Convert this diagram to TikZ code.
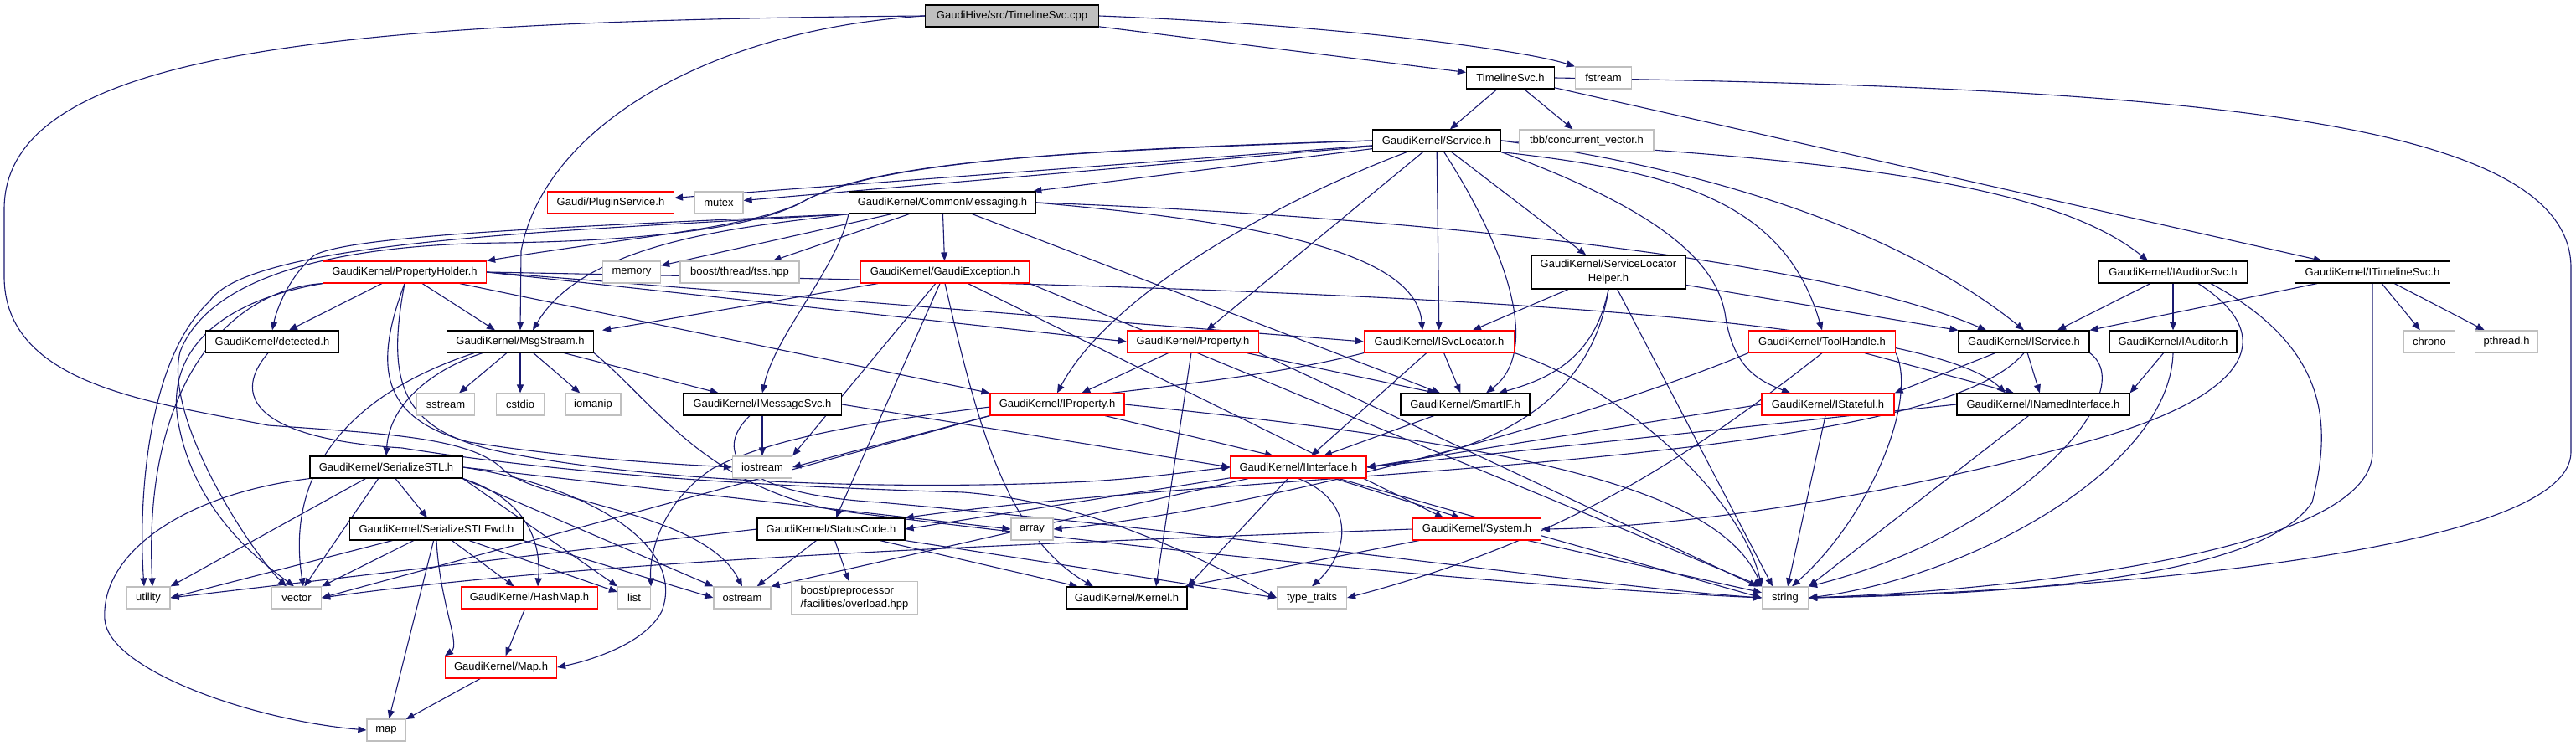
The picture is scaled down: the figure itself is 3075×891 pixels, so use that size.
\documentclass[tikz,border=0pt]{standalone}
\usepackage{fontspec}
\setmainfont{Liberation Sans}
\usetikzlibrary{arrows.meta}
\definecolor{edgec}{HTML}{191970}
\definecolor{greyb}{HTML}{BFBFBF}
\definecolor{redb}{HTML}{FF0000}
\pgfdeclarelayer{background}
\pgfsetlayers{background,main}
\begin{document}
\begin{tikzpicture}[x=1pt,y=-1pt,
  nb/.style={draw=black, line width=1.2pt, fill=white, minimum height=26pt, inner sep=0pt, font=\fontsize{13}{15}\selectfont},
  nr/.style={nb, draw=redb},
  ng/.style={nb, draw=greyb},
  dep/.style={draw=edgec, line width=1.1pt, -{Triangle[length=10pt,width=8pt]}},
]
\useasboundingbox (0,0) rectangle (3075,891);
% row 0
\node[nb, fill=greyb, minimum width=207] (cpp) at (1208,19) {GaudiHive/src/TimelineSvc.cpp};
% row 1
\node[nb, minimum width=105] (tlh) at (1803,93) {TimelineSvc.h};
\node[ng, minimum width=67] (fstream) at (1914,93) {fstream};
% row 2
\node[nb, minimum width=153] (service) at (1715,168) {GaudiKernel/Service.h};
\node[ng, minimum width=160] (tbb) at (1894,168) {tbb/concurrent\_vector.h};
% row 3
\node[nr, minimum width=151] (plugin) at (729,242) {Gaudi/PluginService.h};
\node[ng, minimum width=58] (mutex) at (858,242) {mutex};
\node[nb, minimum width=223] (commsg) at (1125,242) {GaudiKernel/CommonMessaging.h};
% row 4
\node[nr, minimum width=195] (propholder) at (483,325) {GaudiKernel/PropertyHolder.h};
\node[ng, minimum width=69] (memory) at (754,325) {memory};
\node[ng, minimum width=142] (tss) at (883,325) {boost/thread/tss.hpp};
\node[nr, minimum width=201] (gexc) at (1128,325) {GaudiKernel/GaudiException.h};
\node[nb, minimum width=184, minimum height=40, align=center, font=\fontsize{13}{17}\selectfont] (slh) at (1920,325) {GaudiKernel/ServiceLocator\\Helper.h};
\node[nb, minimum width=177] (iauditsvc) at (2594,325) {GaudiKernel/IAuditorSvc.h};
\node[nb, minimum width=185] (itimeline) at (2832,325) {GaudiKernel/ITimelineSvc.h};
% row 5
\node[nb, minimum width=159] (detected) at (325,408) {GaudiKernel/detected.h};
\node[nb, minimum width=175] (msgstream) at (621,408) {GaudiKernel/MsgStream.h};
\node[nr, minimum width=157] (property) at (1424,408) {GaudiKernel/Property.h};
\node[nr, minimum width=179] (isvcloc) at (1718,408) {GaudiKernel/ISvcLocator.h};
\node[nr, minimum width=175] (toolhandle) at (2175,408) {GaudiKernel/ToolHandle.h};
\node[nb, minimum width=156] (iservice) at (2416,408) {GaudiKernel/IService.h};
\node[nb, minimum width=152] (iauditor) at (2594,408) {GaudiKernel/IAuditor.h};
\node[ng, minimum width=61] (chrono) at (2900,408) {chrono};
\node[ng, minimum width=75] (pthread) at (2992,408) {pthread.h};
% row 6
\node[ng, minimum width=69] (sstream) at (532,483) {sstream};
\node[ng, minimum width=57] (cstdio) at (621,483) {cstdio};
\node[ng, minimum width=66] (iomanip) at (708,483) {iomanip};
\node[nb, minimum width=189] (imsgsvc) at (910,483) {GaudiKernel/IMessageSvc.h};
\node[nr, minimum width=160] (iproperty) at (1262,483) {GaudiKernel/IProperty.h};
\node[nb, minimum width=154] (smartif) at (1749,483) {GaudiKernel/SmartIF.h};
\node[nr, minimum width=158] (istateful) at (2182,483) {GaudiKernel/IStateful.h};
\node[nb, minimum width=206] (inamed) at (2439,483) {GaudiKernel/INamedInterface.h};
% row 7
\node[nb, minimum width=182] (serstl) at (461,558) {GaudiKernel/SerializeSTL.h};
\node[ng, minimum width=71] (iostream) at (910,558) {iostream};
\node[nr, minimum width=162] (iinterface) at (1550,558) {GaudiKernel/IInterface.h};
% row 8
\node[nb, minimum width=207] (serfwd) at (521,632) {GaudiKernel/SerializeSTLFwd.h};
\node[nb, minimum width=176] (statuscode) at (992,632) {GaudiKernel/StatusCode.h};
\node[ng, minimum width=50] (array) at (1232,632) {array};
\node[nr, minimum width=153] (system) at (1763,632) {GaudiKernel/System.h};
% row 9
\node[ng, minimum width=52] (utility) at (177,714) {utility};
\node[ng, minimum width=59] (vector) at (354,714) {vector};
\node[nr, minimum width=163] (hashmap) at (632,714) {GaudiKernel/HashMap.h};
\node[ng, minimum width=39] (list) at (757,714) {list};
\node[ng, minimum width=68] (ostream) at (886,714) {ostream};
\node[ng, minimum width=151, minimum height=39, align=left, font=\fontsize{13}{16}\selectfont] (boostpp) at (1020,714) {boost/preprocessor\\/facilities/overload.hpp};
\node[nb, minimum width=144] (kernel) at (1345,714) {GaudiKernel/Kernel.h};
\node[ng, minimum width=83] (typetraits) at (1566,714) {type\_traits};
\node[ng, minimum width=55] (string) at (2131,714) {string};
% row 10, 11
\node[nr, minimum width=133] (maph) at (598,797) {GaudiKernel/Map.h};
\node[ng, minimum width=46] (map) at (461,872) {map};

\begin{pgfonlayer}{background}
% cpp
\draw[dep] (cpp) -- (tlh);
\draw[dep] (cpp.east) .. controls (1600,30) and (1820,60) .. (fstream.north west);
\draw[dep] (cpp.west) .. controls (850,35) and (650,150) .. (622,300) -- (msgstream.north);
\draw[dep] (cpp.west) .. controls (400,25) and (5,60) .. (5,250) -- (5,330) .. controls (5,460) and (180,480) .. (320,508) .. controls (460,518) and (560,522) .. (600,560) .. controls (640,600) and (840,610) .. (ostream.north);
% TimelineSvc.h
\draw[dep] (tlh) -- (service);
\draw[dep] (tlh) -- (tbb);
\draw[dep] (tlh) -- (itimeline);
\draw[dep] (tlh.east) .. controls (2600,105) and (3069,140) .. (3069,320) -- (3069,540) .. controls (3069,660) and (2500,705) .. (string.east);
% Service.h
\draw[dep] (service) -- (plugin);
\draw[dep] (service) -- (mutex);
\draw[dep] (service) -- (commsg);
\draw[dep] (service.west) .. controls (1300,178) and (1050,192) .. (960,240) .. controls (900,272) and (760,282) .. (propholder.north east);
\draw[dep] (service.west) .. controls (1300,180) and (1050,190) .. (960,240) .. controls (900,275) and (750,288) .. (600,290) .. controls (400,292) and (250,330) .. (215,420) .. controls (195,500) and (300,660) .. ([xshift=-12]vector.north);
\draw[dep] (service) -- (property);
\draw[dep] (service) .. controls (1500,250) and (1320,360) .. (iproperty.north);
\draw[dep] (service) -- (isvcloc);
\draw[dep] (service) .. controls (1800,300) and (1840,420) .. ([xshift=25]smartif.north);
\draw[dep] (service) -- (slh);
\draw[dep] (service.south east) .. controls (2000,205) and (2130,240) .. (toolhandle.north);
\draw[dep] (service.south east) .. controls (1950,240) and (2050,300) .. (2060,380) .. controls (2070,440) and (2100,455) .. ([xshift=-45]istateful.north);
\draw[dep] (service.east) .. controls (2100,210) and (2300,300) .. (iservice.north);
\draw[dep] (service.east) .. controls (2200,190) and (2450,220) .. ([xshift=-30]iauditsvc.north);
% CommonMessaging.h
\draw[dep] (commsg) -- (memory);
\draw[dep] (commsg) -- (tss);
\draw[dep] (commsg) -- (gexc);
\draw[dep] (commsg.south west) .. controls (1000,320) and (925,400) .. (imsgsvc.north);
\draw[dep] (commsg.east) .. controls (1500,265) and (1690,300) .. ([xshift=-20]isvcloc.north);
\draw[dep] (commsg.south west) .. controls (900,270) and (700,285) .. ([xshift=15]msgstream.north);
\draw[dep] (commsg) -- ([xshift=-30]smartif.north);
\draw[dep] (commsg.south west) .. controls (700,270) and (420,280) .. (375,305) .. controls (345,330) and (330,370) .. (detected.north);
\draw[dep] (commsg.east) .. controls (1600,255) and (2150,300) .. ([xshift=-45]iservice.north);
\draw[dep] (commsg.south west) .. controls (700,275) and (300,285) .. (250,360) .. controls (175,430) and (165,600) .. ([xshift=-5]utility.north);
% PropertyHolder.h
\draw[dep] (propholder) -- ([xshift=20]detected.north);
\draw[dep] (propholder) -- ([xshift=-30]msgstream.north);
\draw[dep] (propholder.east) -- (property.west);
\draw[dep] (propholder.east) -- (isvcloc.west);
\draw[dep] (propholder.east) .. controls (1400,340) and (2280,360) .. ([xshift=-45]inamed.north);
\draw[dep] (propholder) -- (iproperty.north west);
\draw[dep] (propholder.south) .. controls (460,460) and (480,515) .. (600,540) .. controls (800,580) and (1100,585) .. (1300,575) .. controls (1380,570) and (1430,562) .. (iinterface.west);
\draw[dep] (propholder.south) .. controls (445,440) and (455,500) .. (560,528) .. controls (700,550) and (820,555) .. (iostream.west);
\draw[dep] (propholder.south west) .. controls (280,345) and (170,450) .. ([xshift=5]utility.north);
\draw[dep] (propholder.south west) .. controls (260,360) and (200,420) .. (212,500) .. controls (230,610) and (310,670) .. ([xshift=-3]vector.north);
% GaudiException.h
\draw[dep] (gexc) -- ([xshift=10]msgstream.north east);
\draw[dep] (gexc) -- (iostream.north east);
\draw[dep] (gexc) -- (statuscode);
\draw[dep] (gexc.south) .. controls (1165,500) and (1200,640) .. ([xshift=-40]kernel.north);
\draw[dep] (gexc) -- ([xshift=-40]system.north);
\draw[dep] (gexc.south east) -- (string.north west);
% ServiceLocatorHelper.h
\draw[dep] (slh) -- ([xshift=40]isvcloc.north);
\draw[dep] (slh.south) .. controls (1905,420) and (1860,450) .. ([xshift=40]smartif.north);
\draw[dep] (slh) -- (iservice.north west);
\draw[dep] (slh) -- ([xshift=-15]string.north);
\draw[dep] (slh.south) .. controls (1900,480) and (1780,540) .. (iinterface.east);
% IAuditorSvc.h
\draw[dep] (iauditsvc) -- ([xshift=40]iservice.north);
\draw[dep] (iauditsvc) -- (iauditor);
\draw[dep] ([xshift=30]iauditsvc.south) .. controls (2720,400) and (2690,470) .. (2500,525) .. controls (2250,595) and (2000,630) .. (system.east);
\draw[dep] ([xshift=45]iauditsvc.south) .. controls (2790,420) and (2780,520) .. (2760,600) .. controls (2700,690) and (2400,710) .. (string.east);
% ITimelineSvc.h
\draw[dep] (itimeline) -- (iservice.north east);
\draw[dep] (itimeline) -- (chrono);
\draw[dep] (itimeline) -- (pthread);
\draw[dep] (itimeline.south) -- (2832,540) .. controls (2832,660) and (2400,705) .. (string.east);
% detected.h
\draw[dep] ([xshift=-5]detected.south) .. controls (270,480) and (320,525) .. (480,535) .. controls (700,570) and (950,582) .. (1150,588) .. controls (1300,600) and (1420,660) .. (typetraits.west);
% MsgStream.h
\draw[dep] (msgstream) -- (sstream);
\draw[dep] (msgstream) -- (cstdio);
\draw[dep] (msgstream) -- (iomanip);
\draw[dep] (msgstream) -- (imsgsvc);
\draw[dep] ([xshift=-45]msgstream.south) .. controls (520,440) and (465,480) .. (serstl.north);
\draw[dep] ([xshift=-55]msgstream.south) .. controls (420,470) and (340,560) .. ([xshift=8]vector.north);
\draw[dep] (msgstream.south east) .. controls (780,480) and (840,580) .. (1000,610) .. controls (1400,660) and (1800,700) .. (string.west);
% Property.h
\draw[dep] (property) -- (iproperty);
\draw[dep] (property) -- ([xshift=-35]smartif.north);
\draw[dep] (property) -- ([xshift=35]kernel.north);
\draw[dep] (property.south east) -- ([xshift=-5]string.north west);
% ISvcLocator.h
\draw[dep] (isvcloc) -- (smartif);
\draw[dep] (isvcloc) -- (iinterface);
\draw[dep] (isvcloc.south east) .. controls (1950,470) and (2080,600) .. (string.north west);
\draw[dep] (isvcloc.south west) .. controls (1400,480) and (1000,480) .. (850,560) .. controls (790,600) and (775,660) .. (list.north east);
% ToolHandle.h
\draw[dep] (toolhandle) -- ([xshift=-35]inamed.north);
\draw[dep] (toolhandle.south east) .. controls (2290,480) and (2230,620) .. ([xshift=8]string.north);
\draw[dep] (toolhandle.south) .. controls (2000,560) and (1850,650) .. (typetraits.east);
\draw[dep] (toolhandle.south west) .. controls (1900,500) and (1500,610) .. (array.east);
% IService.h
\draw[dep] (iservice) -- (istateful.north east);
\draw[dep] (iservice) -- (inamed);
\draw[dep] (iservice.south east) .. controls (2560,470) and (2400,640) .. (string.north east);
\draw[dep] (iservice.south) .. controls (2300,560) and (1500,560) .. (statuscode.north east);
% IAuditor.h
\draw[dep] (iauditor) -- (inamed.north east);
\draw[dep] (iauditor.south) .. controls (2590,560) and (2350,690) .. (string.east);
% IMessageSvc.h
\draw[dep] (imsgsvc) -- (iostream);
\draw[dep] (imsgsvc.east) -- (iinterface.west);
\draw[dep] ([xshift=-15]imsgsvc.south) .. controls (850,540) and (880,590) .. (1050,600) .. controls (1500,640) and (1900,700) .. (string.west);
% IProperty.h
\draw[dep] (iproperty) -- ([xshift=-30]iinterface.north);
\draw[dep] (iproperty.south west) -- (iostream.east);
\draw[dep] (iproperty.south west) -- (vector.east);
\draw[dep] (iproperty.east) .. controls (1800,530) and (2050,580) .. (string.north west);
% SmartIF.h, IStateful.h, INamedInterface.h
\draw[dep] (smartif) -- ([xshift=30]iinterface.north);
\draw[dep] (istateful.west) -- (iinterface.east);
\draw[dep] (istateful) -- (string);
\draw[dep] (inamed.west) -- (iinterface.east);
\draw[dep] (inamed) -- (string.north east);
% SerializeSTL.h
\draw[dep] (serstl) -- (serfwd);
\draw[dep] (serstl.south east) .. controls (640,600) and (645,660) .. ([xshift=10]hashmap.north);
\draw[dep] (serstl.east) .. controls (700,580) and (820,650) .. (790,730) .. controls (770,770) and (700,790) .. (maph.east);
\draw[dep] (serstl.east) -- (array.west);
\draw[dep] (serstl.south east) -- (list.north west);
\draw[dep] (serstl.south west) .. controls (220,590) and (120,660) .. (125,740) .. controls (130,800) and (300,860) .. (map.west);
\draw[dep] (serstl.south east) -- (ostream.north west);
\draw[dep] (serstl) -- (utility.north east);
\draw[dep] (serstl) -- (vector);
% IInterface.h
\draw[dep] (iinterface) -- (statuscode.east);
\draw[dep] (iinterface) -- (kernel.north east);
\draw[dep] (iinterface) -- ([xshift=-20]system.north);
\draw[dep] (iinterface) -- (ostream.north east);
\draw[dep] (iinterface.south) .. controls (1620,600) and (1610,660) .. (typetraits.north);
\draw[dep] (iinterface) -- (string.west);
% SerializeSTLFwd.h
\draw[dep] (serfwd) -- (utility.east);
\draw[dep] (serfwd) -- (vector.north east);
\draw[dep] (serfwd) -- (hashmap);
\draw[dep] (serfwd.south) .. controls (525,720) and (550,770) .. (maph.north west);
\draw[dep] (serfwd) -- (list);
\draw[dep] (serfwd) -- (map);
\draw[dep] (serfwd.south east) -- (ostream.west);
% StatusCode.h
\draw[dep] (statuscode) -- (ostream);
\draw[dep] (statuscode) -- (boostpp);
\draw[dep] (statuscode) -- (kernel);
\draw[dep] (statuscode.south east) -- (typetraits.west);
\draw[dep] (statuscode.west) -- (utility.east);
% System.h
\draw[dep] (system) -- (kernel);
\draw[dep] (system) -- (string);
\draw[dep] (system.west) .. controls (1200,650) and (700,670) .. (vector.east);
% HashMap, Map
\draw[dep] (hashmap) -- (maph);
\draw[dep] (maph) -- (map);
\end{pgfonlayer}
\end{tikzpicture}
\end{document}
